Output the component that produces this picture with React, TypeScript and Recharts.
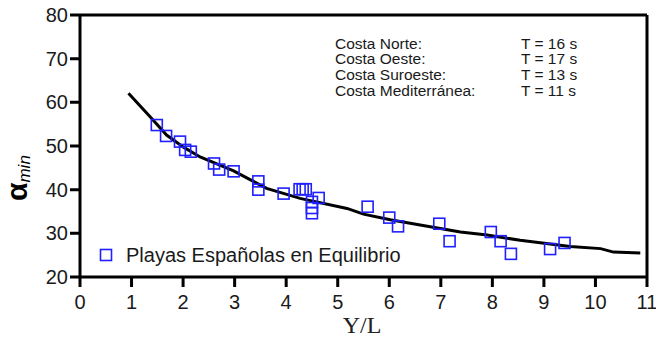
import React from "react";
import {
  ComposedChart,
  Line,
  Scatter,
  XAxis,
  YAxis,
  ReferenceLine,
} from "recharts";

// Fitted curve alpha_min vs Y/L
const curveX = [0.94, 1.36, 1.68, 2.0, 2.33, 2.98, 3.62, 4.27, 5.18, 5.5, 6.02, 6.6, 7.38, 7.9, 8.54, 9.51, 10.1, 10.35, 10.87];
const curveY = [62.1, 56.7, 52.5, 49.8, 47.5, 44.3, 40.3, 38.0, 35.7, 34.4, 33.1, 31.9, 30.3, 29.6, 28.4, 27.0, 26.5, 25.7, 25.5];

// Measured beaches in equilibrium
const beachX = [1.49, 1.67, 1.94, 2.04, 2.15, 2.6, 2.7, 2.98, 3.46, 3.46, 3.95, 4.26, 4.32, 4.38, 4.63, 4.5, 4.5, 4.5, 5.58, 6.0, 6.17, 6.97, 7.17, 7.97, 8.16, 8.36, 9.12, 9.4];
const beachY = [54.8, 52.3, 51.0, 49.1, 48.7, 46.0, 44.6, 44.2, 41.9, 40.0, 39.1, 40.1, 40.1, 40.1, 38.1, 37.2, 35.8, 34.6, 36.1, 33.6, 31.6, 32.2, 28.2, 30.3, 28.2, 25.3, 26.4, 27.8];

const xTicks = [0, 1, 2, 3, 4, 5, 6, 7, 8, 9, 10, 11];
const yTicks = [20, 30, 40, 50, 60, 70, 80];

const coastLabels = ["Costa Norte:", "Costa Oeste:", "Costa Suroeste:", "Costa Mediterránea:"];
const coastPeriods = ["T = 16 s", "T = 17 s", "T = 13 s", "T = 11 s"];

const curveData = curveX.map((x, i) => ({ x, y: curveY[i] }));
const beachData = beachX.map((x, i) => ({ x, y: beachY[i] }));

const FONT = "'Liberation Sans', Arial, sans-serif";
const SERIF = "'Liberation Serif', 'Times New Roman', serif";
const BLUE = "#1f1fff";
const TEXT = "#1a1a1a";

const W = 656;
const H = 339;
const MARGIN = { top: 15, right: 9, bottom: 32, left: 38 };
const Y_AXIS_W = 42;
const X_AXIS_H = 30;
const TICK = 10;

// plot box, used for the thick tick marks drawn on top
const plotLeft = MARGIN.left + Y_AXIS_W;
const plotTop = MARGIN.top;
const plotW = W - plotLeft - MARGIN.right;
const plotH = H - MARGIN.top - MARGIN.bottom - X_AXIS_H;
const plotBottom = plotTop + plotH;
const px = (v: number) => plotLeft + (v / 11) * plotW;
const py = (v: number) => plotBottom - ((v - 20) / 60) * plotH;

function SquareMarker(props: any) {
  const { cx, cy } = props;
  if (cx == null || cy == null) return null;
  return (
    <rect x={cx - 5.5} y={cy - 5.5} width={11} height={11} fill="none" stroke={BLUE} strokeWidth={1.6} />
  );
}

function XTick(props: any) {
  const { x, y, payload } = props;
  return (
    <text x={x} y={y + 22} textAnchor="middle" fontFamily={FONT} fontSize={20} fill={TEXT}>
      {payload.value}
    </text>
  );
}

function YTick(props: any) {
  const { x, y, payload } = props;
  return (
    <text x={x - 2} y={y + 7} textAnchor="end" fontFamily={FONT} fontSize={20} fill={TEXT}>
      {payload.value}
    </text>
  );
}

export default function App() {
  return (
    <div style={{ position: "absolute", left: 0, top: 0, width: W, height: H, background: "#fff" }}>
      <ComposedChart width={W} height={H} margin={MARGIN}>
        <XAxis
          type="number"
          dataKey="x"
          domain={[0, 11]}
          ticks={xTicks}
          allowDataOverflow
          stroke="#000"
          axisLine={{ stroke: "#000", strokeWidth: 3 }}
          tickLine={false}
          tickSize={TICK}
          tickMargin={0}
          height={X_AXIS_H}
          tick={<XTick />}
        />
        <YAxis
          type="number"
          dataKey="y"
          domain={[20, 80]}
          ticks={yTicks}
          allowDataOverflow
          width={Y_AXIS_W}
          stroke="#000"
          axisLine={{ stroke: "#000", strokeWidth: 3 }}
          tickLine={false}
          tickSize={TICK}
          tickMargin={0}
          tick={<YTick />}
        />
        <ReferenceLine y={80} stroke="#000" strokeWidth={3} />
        <ReferenceLine x={11} stroke="#000" strokeWidth={3} />
        <Line
          data={curveData}
          dataKey="y"
          type="linear"
          stroke="#000"
          strokeWidth={3}
          dot={false}
          isAnimationActive={false}
        />
        <Scatter
          data={beachData}
          dataKey="y"
          shape={<SquareMarker />}
          isAnimationActive={false}
        />
      </ComposedChart>

      {/* tick marks, axis titles, legend and coast notes */}
      <svg style={{ position: "absolute", left: 0, top: 0 }} width={W} height={H} pointerEvents="none">
        <path
          d={
            xTicks.map((t) => `M${px(t)},${plotBottom} V${plotBottom + TICK}`).join(" ") +
            " " +
            yTicks.map((t) => `M${plotLeft},${py(t)} H${plotLeft - TICK}`).join(" ")
          }
          stroke="#000"
          strokeWidth={3}
          fill="none"
        />
        <text transform="translate(27, 201) rotate(-90)" fill="#000">
          <tspan fontFamily={FONT} fontWeight="bold" fontSize={30}>α</tspan>
          <tspan fontFamily={FONT} fontStyle="italic" fontSize={17} dy={3}>min</tspan>
        </text>
        <text x={362} y={333} textAnchor="middle" fontFamily={SERIF} fontSize={24} fill="#222">
          Y/L
        </text>
        <rect x={100.5} y={249.5} width={11} height={11} fill="none" stroke={BLUE} strokeWidth={1.6} />
        <text x={126} y={262} fontFamily={FONT} fontSize={20} fill={TEXT}>
          Playas Españolas en Equilibrio
        </text>
        {coastLabels.map((t, i) => (
          <text key={t} x={335} y={48.5 + i * 15.8} fontFamily={FONT} fontSize={15.5} fill={TEXT}>
            {t}
          </text>
        ))}
        {coastPeriods.map((t, i) => (
          <text key={t} x={521} y={48.5 + i * 15.8} fontFamily={FONT} fontSize={15.5} fill={TEXT}>
            {t}
          </text>
        ))}
      </svg>
    </div>
  );
}
